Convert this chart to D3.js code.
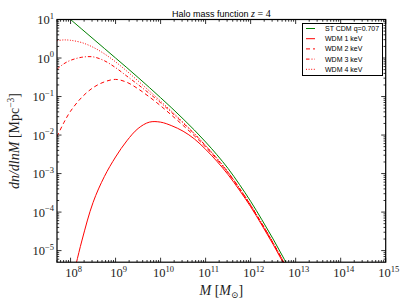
<!DOCTYPE html>
<html><head><meta charset="utf-8">
<script src="https://cdn.jsdelivr.net/npm/d3@7"></script>
<style>body{margin:0;background:#fff}svg{display:block}</style>
</head><body>
<svg id="c" width="407" height="305"></svg>
<script>
// ---- data (log10 M [Msun] grid and log10 dn/dlnM [Mpc^-3]) ----
const logMass = [7.7, 7.85, 8.0, 8.25, 8.5, 8.75, 9.0, 9.25, 9.5, 9.75, 10.0, 10.25, 10.5, 10.75, 11.0, 11.25, 11.5, 11.75, 12.0, 12.25, 12.5, 12.75, 13.0];
const stCDM  = [1.30, 1.15, 1.0, 0.75, 0.50, 0.25, 0.0, -0.25, -0.505, -0.765, -1.03, -1.30, -1.58, -1.87, -2.18, -2.51, -2.87, -3.28, -3.72, -4.20, -4.70, -5.23, -5.78];
const wdm1   = [-7.3, -6.6, -5.95, -4.75, -3.75, -3.08, -2.57, -2.15, -1.83, -1.665, -1.665, -1.76, -1.90, -2.10, -2.37, -2.68, -3.03, -3.43, -3.86, -4.34, -4.84, -5.37, -5.92];
const wdm2   = [-2.04, -1.68, -1.38, -1.02, -0.77, -0.62, -0.555, -0.63, -0.80, -1.01, -1.24, -1.49, -1.75, -2.02, -2.31, -2.63, -2.98, -3.39, -3.83, -4.31, -4.81, -5.34, -5.89];
const wdm3   = [-0.29, -0.15, -0.06, 0.02, 0.03, -0.07, -0.25, -0.47, -0.69, -0.92, -1.16, -1.42, -1.69, -1.97, -2.28, -2.61, -2.97, -3.38, -3.82, -4.30, -4.80, -5.33, -5.88];
const wdm4   = [0.45, 0.47, 0.46, 0.40, 0.28, 0.11, -0.10, -0.34, -0.595, -0.855, -1.12, -1.39, -1.67, -1.96, -2.27, -2.60, -2.96, -3.37, -3.81, -4.29, -4.79, -5.32, -5.87];
const seriesNames = ["ST CDM q=0.707", "WDM 1 keV", "WDM 2 keV", "WDM 3 keV", "WDM 4 keV"];
const xTickExps = [8, 9, 10, 11, 12, 13, 14, 15];
const yTickExps = [1, 0, -1, -2, -3, -4, -5];
const xDomain = [5e7, 1e15];
const yDomain = [5e-6, 10];

// ---- layout ----
const svg = d3.select("#c");
const L = 57, R = 385.7, T = 19.5, B = 262.2;
const x = d3.scaleLog().domain(xDomain).range([L, R]);
const y = d3.scaleLog().domain(yDomain).range([B, T]);

const serif = "'Liberation Serif','DejaVu Serif',serif";
const sans = "'Liberation Sans',Arial,sans-serif";

svg.append("defs").append("clipPath").attr("id","clip")
  .append("rect").attr("x",L).attr("y",T).attr("width",R-L).attr("height",B-T);

const styles = [
  {data: stCDM, color: "#008000", dash: null},
  {data: wdm1, color: "#ff0000", dash: null},
  {data: wdm2, color: "#ff0000", dash: "4,3"},
  {data: wdm3, color: "#ff0000", dash: "3.5,2,1,2"},
  {data: wdm4, color: "#ff0000", dash: "1,1.6"}
];

const line = d3.line()
  .x(d => x(Math.pow(10, d[0])))
  .y(d => y(Math.pow(10, d[1])))
  .curve(d3.curveCatmullRom.alpha(0.5));

const g = svg.append("g").attr("clip-path","url(#clip)");
styles.slice().reverse().forEach(s => {
  const pts = logMass.map((m,i) => [m, s.data[i]]);
  g.append("path").attr("d", line(pts)).attr("fill","none")
    .attr("stroke", s.color).attr("stroke-width", 1)
    .attr("stroke-dasharray", s.dash);
});

// ---- axes (ticks inward on all sides) ----
const xMajor = xTickExps.map(e => Math.pow(10, e));
const xMinor = [];
for (let e = 7; e < 15; e++) for (let k = 2; k <= 9; k++) { const v = k*Math.pow(10,e); if (v >= xDomain[0] && v <= xDomain[1]) xMinor.push(v); }
const yMinor = [];
for (let e = -6; e < 1; e++) for (let k = 2; k <= 9; k++) { const v = k*Math.pow(10,e); if (v >= yDomain[0] && v <= yDomain[1]) yMinor.push(v); }
const yMajor = yTickExps.map(e => Math.pow(10, e));

const axG = svg.append("g").attr("stroke","#000").attr("stroke-width",0.8);
function tickX(v, len) {
  const px = x(v);
  axG.append("line").attr("x1",px).attr("x2",px).attr("y1",B).attr("y2",B-len);
  axG.append("line").attr("x1",px).attr("x2",px).attr("y1",T).attr("y2",T+len);
}
function tickY(v, len) {
  const py = y(v);
  axG.append("line").attr("y1",py).attr("y2",py).attr("x1",L).attr("x2",L+len);
  axG.append("line").attr("y1",py).attr("y2",py).attr("x1",R).attr("x2",R-len);
}
xMajor.forEach(v => tickX(v, 4.5));
xMinor.forEach(v => tickX(v, 2.2));
yMajor.forEach(v => tickY(v, 4.5));
yMinor.forEach(v => tickY(v, 2.2));

svg.append("rect").attr("x",L).attr("y",T).attr("width",R-L).attr("height",B-T)
  .attr("fill","none").attr("stroke","#000").attr("stroke-width",1.2);

function expLabel(sel, e) {
  const s = e < 0 ? "\u2212" + Math.abs(e) : String(e);
  sel.append("tspan").text("10");
  sel.append("tspan").attr("font-size", 8.5).attr("dy", -5.5).text(s);
}
xTickExps.forEach(e => {
  const t = svg.append("text").attr("x", x(Math.pow(10,e)) + 3).attr("y", 277)
    .attr("text-anchor","middle").attr("font-family",serif).attr("font-size",12.5).attr("fill","#222");
  expLabel(t, e);
});
yTickExps.forEach(e => {
  const t = svg.append("text").attr("x", 54).attr("y", y(Math.pow(10,e)) + 4.5)
    .attr("text-anchor","end").attr("font-family",serif).attr("font-size",12.5).attr("fill","#222");
  expLabel(t, e);
});

// ---- title & axis labels ----
const title = svg.append("text").attr("x", (L+R)/2).attr("y", 16.5).attr("text-anchor","middle")
  .attr("font-family", sans).attr("font-size", 9).attr("fill","#000");
title.append("tspan").text("Halo mass function ");
title.append("tspan").attr("font-family", serif).attr("font-style","italic").attr("font-size",10).text("z");
title.append("tspan").attr("font-family", serif).attr("font-size",10).text(" = 4");

const xl = svg.append("text").attr("x", (L+R)/2).attr("y", 295).attr("text-anchor","middle")
  .attr("font-family", serif).attr("font-size", 14).attr("fill","#222");
xl.append("tspan").attr("font-style","italic").text("M");
xl.append("tspan").text(" [");
xl.append("tspan").attr("font-style","italic").text("M");
xl.append("tspan").attr("font-size",9).attr("dy",3).text("\u2299");
xl.append("tspan").attr("dy",-3).text("]");

const yl = svg.append("text").attr("transform","translate(19,141) rotate(-90)").attr("text-anchor","middle")
  .attr("font-family", serif).attr("font-size", 14).attr("fill","#222");
yl.append("tspan").attr("font-style","italic").text("dn/dlnM");
yl.append("tspan").text(" [Mpc");
yl.append("tspan").attr("font-size",9.5).attr("dy",-5.5).text("\u22123");
yl.append("tspan").attr("dy",5.5).text("]");

// ---- legend ----
const lg = svg.append("g");
lg.append("rect").attr("x",302.5).attr("y",23.5).attr("width",80).attr("height",52)
  .attr("fill","#fff").attr("stroke","#000").attr("stroke-width",1);
styles.forEach((s,i) => {
  const yy = 28.5 + i*10.2;
  lg.append("line").attr("x1",306).attr("x2",315).attr("y1",yy).attr("y2",yy)
    .attr("stroke",s.color).attr("stroke-width",1).attr("stroke-dasharray",s.dash);
  lg.append("text").attr("x",325).attr("y",yy+2.5).attr("font-family",sans).attr("font-size",7)
    .attr("fill","#000").text(seriesNames[i]);
});
</script>
</body></html>
